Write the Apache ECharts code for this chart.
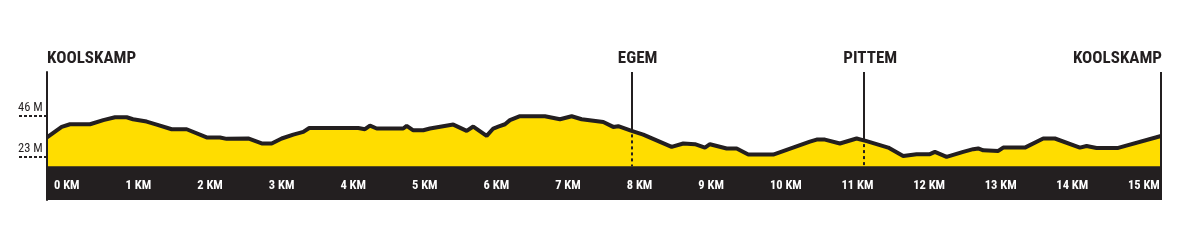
<!DOCTYPE html>
<html>
<head>
<meta charset="utf-8">
<script src="https://cdn.jsdelivr.net/npm/echarts@6/dist/echarts.min.js"></script>
<style>
html,body{margin:0;padding:0;background:#fff;}
#c{width:1200px;height:250px;}
</style>
</head>
<body>
<div id="c"></div>
<script>
// distance along route (km)
const distanceKm = [0, 0.205, 0.321, 0.601, 0.786, 0.95, 1.113, 1.201, 1.392, 1.532, 1.742, 1.951, 2.23, 2.416, 2.51, 2.81, 2.999, 3.138, 3.278, 3.44, 3.58, 3.663, 4.348, 4.441, 4.511, 4.605, 4.976, 5.024, 5.116, 5.256, 5.349, 5.675, 5.862, 5.954, 6.141, 6.233, 6.303, 6.397, 6.466, 6.606, 6.955, 7.165, 7.328, 7.468, 7.77, 7.909, 7.979, 8.166, 8.328, 8.725, 8.887, 9.05, 9.19, 9.26, 9.493, 9.633, 9.795, 10.144, 10.656, 10.75, 10.866, 11.075, 11.308, 11.448, 11.75, 11.959, 12.146, 12.332, 12.402, 12.565, 12.797, 12.937, 13.007, 13.077, 13.287, 13.356, 13.659, 13.915, 14.078, 14.427, 14.521, 14.66, 14.962, 15.56];
// elevation (m)
const elevationM = [34.1, 40.0, 41.5, 41.5, 43.8, 45.4, 45.4, 44.3, 43.0, 41.3, 38.7, 38.7, 34.1, 34.1, 33.3, 33.5, 30.7, 30.7, 33.5, 35.7, 37.2, 39.4, 39.4, 38.7, 40.7, 39.1, 39.1, 40.6, 38.1, 38.1, 39.1, 41.3, 37.8, 40.2, 35.0, 39.1, 40.2, 41.5, 43.8, 46.0, 46.0, 44.3, 46.0, 44.3, 42.8, 40.0, 40.4, 37.8, 35.7, 28.8, 30.7, 30.3, 28.4, 30.3, 27.9, 27.9, 24.5, 24.5, 31.7, 32.9, 32.9, 30.7, 33.5, 32.0, 28.4, 23.7, 24.7, 24.7, 26.0, 23.2, 26.0, 27.5, 27.9, 26.9, 26.5, 28.4, 28.4, 33.5, 33.5, 28.4, 29.3, 28.2, 28.2, 34.9];
const kmTicks = [0, 1, 2, 3, 4, 5, 6, 7, 8, 9, 10, 11, 12, 13, 14, 15];
const elevTicks = [23, 46];
const placeNames = ['KOOLSKAMP', 'EGEM', 'PITTEM', 'KOOLSKAMP'];
const placeKm = [0, 8.166, 11.415, 15.56];

const routeEnd = distanceKm[distanceKm.length - 1];
const yMin = -1, yMax = 70.8, bandTop = 18;
const INK = '#231f20', YELLOW = '#ffdd00';
const NARROW = '"Roboto Condensed", "Liberation Sans Narrow", "Roboto", "DejaVu Sans Condensed", sans-serif';

function elevAt(km) {
  for (let i = 1; i < distanceKm.length; i++) {
    if (km <= distanceKm[i]) {
      const t = (km - distanceKm[i - 1]) / (distanceKm[i] - distanceKm[i - 1]);
      return elevationM[i - 1] + t * (elevationM[i] - elevationM[i - 1]);
    }
  }
  return elevationM[elevationM.length - 1];
}

const profile = distanceKm.map((d, i) => [d, elevationM[i]]);
const band = [[0, bandTop], [routeEnd, bandTop]];

const solidLines = [];
const dashedLines = [];
placeKm.forEach((k, i) => {
  if (i === 0) return; // left edge is the y axis line
  if (i === placeKm.length - 1) {
    solidLines.push([{ coord: [k, yMax] }, { coord: [k, yMin] }]);
  } else {
    const e = elevAt(k);
    solidLines.push([{ coord: [k, yMax] }, { coord: [k, e] }]);
    dashedLines.push([{ coord: [k, e - 2] }, { coord: [k, bandTop] }]);
  }
});

const placeLabels = placeKm.map((k, i) => {
  let align = 'center', offset = [6, 0];
  if (i === 0) { align = 'left'; offset = [0, 0]; }
  if (i === placeKm.length - 1) { align = 'right'; offset = [1, 0]; }
  return {
    coord: [k, yMax],
    value: placeNames[i],
    label: { align: align, offset: offset }
  };
});

const chart = echarts.init(document.getElementById('c'), null, { renderer: 'canvas' });
chart.setOption({
  animation: false,
  grid: { left: 47, right: 39, top: 72, bottom: 50 },
  xAxis: {
    type: 'value', min: 0, max: routeEnd, interval: 1, z: 10,
    axisLine: { show: false }, axisTick: { show: false }, splitLine: { show: false },
    axisLabel: {
      customValues: kmTicks,
      inside: true, margin: 14, verticalAlign: 'middle', align: 'left',
      padding: [0, 0, 0, 7],
      formatter: v => v + ' KM',
      color: '#fff', fontFamily: NARROW, fontWeight: 'bold', fontSize: 12.5
    }
  },
  yAxis: {
    type: 'value', min: yMin, max: yMax, z: 10,
    splitLine: { show: false },
    axisLine: { show: true, lineStyle: { color: INK, width: 2 } },
    axisTick: {
      show: true, customValues: elevTicks, length: 29,
      lineStyle: { color: INK, width: 2, type: [3, 2] }
    },
    axisLabel: {
      customValues: elevTicks, margin: 29, align: 'left', verticalAlign: 'bottom',
      padding: [0, 0, 2, 0],
      formatter: v => v + ' M',
      color: INK, fontFamily: NARROW, fontSize: 12.5
    }
  },
  series: [
    {
      type: 'line', data: profile, symbol: 'none', z: 2,
      lineStyle: { color: INK, width: 4 },
      areaStyle: { color: YELLOW, opacity: 1, origin: 'start' }
    },
    {
      type: 'line', data: band, symbol: 'none', z: 3, silent: true,
      lineStyle: { width: 0 },
      areaStyle: { color: INK, opacity: 1, origin: 'start' }
    },
    {
      type: 'line', data: profile, symbol: 'none', z: 4, silent: true,
      lineStyle: { width: 0 },
      markLine: {
        silent: true, symbol: 'none', label: { show: false },
        lineStyle: { color: INK, width: 2, type: 'solid' },
        data: solidLines
      }
    },
    {
      type: 'line', data: profile, symbol: 'none', z: 4, silent: true,
      lineStyle: { width: 0 },
      markLine: {
        silent: true, symbol: 'none', label: { show: false },
        lineStyle: { color: INK, width: 2, type: [3, 3] },
        data: dashedLines
      }
    },
    {
      type: 'line', data: profile, symbol: 'none', z: 5, silent: true,
      lineStyle: { width: 0 },
      markPoint: {
        silent: true, symbol: 'circle', symbolSize: 0,
        label: {
          show: true, position: 'top', distance: 5,
          formatter: p => p.value,
          color: INK, fontFamily: NARROW, fontWeight: 'bold', fontSize: 17
        },
        data: placeLabels
      }
    }
  ]
});
</script>
</body>
</html>
